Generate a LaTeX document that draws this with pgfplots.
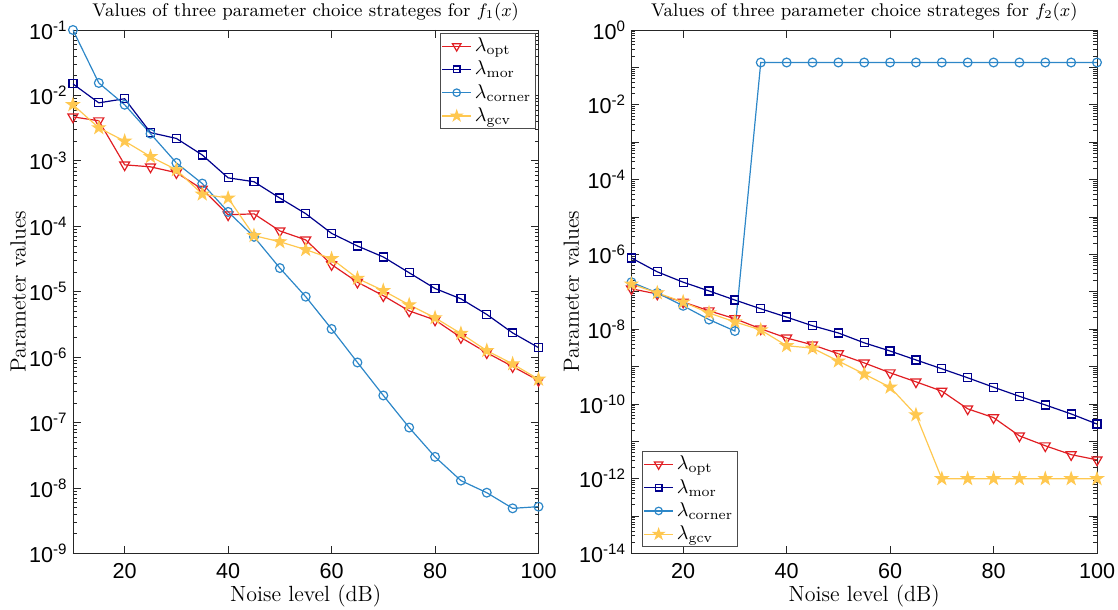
\documentclass[border=0pt]{standalone}
\usepackage{pgfplots}
\pgfplotsset{compat=1.18}
\usepackage{fontspec}
\newfontfamily\hv{Liberation Sans}

\definecolor{copt}{RGB}{225,30,35}
\definecolor{cmor}{RGB}{0,0,140}
\definecolor{ccor}{RGB}{45,135,200}
\definecolor{cgcv}{RGB}{255,200,80}

% filled five-pointed star, like MATLAB's pentagram
\pgfdeclareplotmark{pstar}{%
  \pgfpathmoveto{\pgfpointpolar{90}{1.3\pgfplotmarksize}}%
  \pgfpathlineto{\pgfpointpolar{126}{0.5\pgfplotmarksize}}%
  \pgfpathlineto{\pgfpointpolar{162}{1.3\pgfplotmarksize}}%
  \pgfpathlineto{\pgfpointpolar{198}{0.5\pgfplotmarksize}}%
  \pgfpathlineto{\pgfpointpolar{234}{1.3\pgfplotmarksize}}%
  \pgfpathlineto{\pgfpointpolar{270}{0.5\pgfplotmarksize}}%
  \pgfpathlineto{\pgfpointpolar{306}{1.3\pgfplotmarksize}}%
  \pgfpathlineto{\pgfpointpolar{342}{0.5\pgfplotmarksize}}%
  \pgfpathlineto{\pgfpointpolar{18}{1.3\pgfplotmarksize}}%
  \pgfpathlineto{\pgfpointpolar{54}{0.5\pgfplotmarksize}}%
  \pgfpathclose
  \pgfusepathqfillstroke
}

% log tick labels in the sans font: 10^e, and only even e
\newcommand\loglab{\pgfmathtruncatemacro\ee{round(\tick/2.302585093)}10\textsuperscript{\ee}}
\newcommand\evenlab{\pgfmathtruncatemacro\ee{round(\tick/2.302585093)}\ifodd\ee\relax\else 10\textsuperscript{\ee}\fi}

\pgfplotsset{
  lam/.style={
    width=233pt, height=262pt, scale only axis,
    xmin=10, xmax=100,
    xtick={20,40,60,80,100},
    axis line style={black!85, line width=0.4pt},
    every tick/.style={black!85, line width=0.4pt},
    major tick length=4pt, minor tick length=2pt,
    xticklabel style={font=\hv\fontsize{10.8}{12}\selectfont, yshift=-1.5pt},
    yticklabel style={font=\hv\fontsize{10.8}{12}\selectfont, xshift=-2.5pt, inner sep=0pt},
    /pgf/number format/assume math mode=true,
    title style={font=\fontsize{9.2}{10}\selectfont, yshift=-5pt},
    label style={font=\fontsize{11}{12}\selectfont},
    xlabel style={yshift=4pt},
    xlabel={Noise level (dB)},
    ylabel={Parameter values},
    legend style={font=\fontsize{10}{11}\selectfont, draw=black!70, line width=0.4pt,
      inner sep=0.5pt, nodes={inner sep=1.6pt}},
    legend image post style={scale=0.85},
    legend cell align=left,
  },
  popt/.style={copt, line width=0.6pt, mark=triangle, mark size=2.9pt, mark options={rotate=180, solid}},
  pmor/.style={cmor, line width=0.6pt, mark=square, mark size=2pt},
  pcor/.style={ccor, line width=0.6pt, mark=o, mark size=2.2pt},
  pgcv/.style={cgcv, line width=0.6pt, mark=pstar, mark size=2.4pt},
}

\begin{document}
\begin{tikzpicture}
\useasboundingbox (-36.5pt,-28pt) rectangle (523pt,277pt);
\begin{semilogyaxis}[lam,
  at={(0pt,0pt)},
  ymin=1e-9, ymax=1e-1,
  ytick={1e-9,1e-8,1e-7,1e-6,1e-5,1e-4,1e-3,1e-2,1e-1},
  yticklabel={\loglab},
  ylabel style={at={(axis description cs:-0.118,0.5)}, anchor=center},
  title={Values of three parameter choice strateges for $f_1(x)$},
  legend style={at={(0.994,0.994)}, anchor=north east},
]
\addplot[popt] coordinates {
  (10,4.7e-3) (15,4.1e-3) (20,8.7e-4) (25,8.1e-4) (30,6.6e-4) (35,3.7e-4)
  (40,1.5e-4) (45,1.55e-4) (50,8.5e-5) (55,6.2e-5) (60,2.6e-5) (65,1.4e-5)
  (70,8.7e-6) (75,5.1e-6) (80,3.7e-6) (85,2.0e-6) (90,1.17e-6) (95,7.2e-7) (100,4.4e-7)
};
\addlegendentry{$\lambda_{\mathrm{opt}}$}
\addplot[pmor] coordinates {
  (10,1.5e-2) (15,7.7e-3) (20,8.9e-3) (25,2.7e-3) (30,2.2e-3) (35,1.23e-3)
  (40,5.5e-4) (45,4.8e-4) (50,2.7e-4) (55,1.56e-4) (60,7.8e-5) (65,5.0e-5)
  (70,3.4e-5) (75,1.95e-5) (80,1.12e-5) (85,7.8e-6) (90,4.5e-6) (95,2.35e-6) (100,1.4e-6)
};
\addlegendentry{$\lambda_{\mathrm{mor}}$}
\addplot[pcor] coordinates {
  (10,1e-1) (15,1.55e-2) (20,7.2e-3) (25,2.6e-3) (30,9.3e-4) (35,4.5e-4)
  (40,1.66e-4) (45,6.9e-5) (50,2.3e-5) (55,8.4e-6) (60,2.7e-6) (65,8.3e-7)
  (70,2.6e-7) (75,8.4e-8) (80,3.0e-8) (85,1.3e-8) (90,8.5e-9) (95,4.9e-9) (100,5.2e-9)
};
\addlegendentry{$\lambda_{\mathrm{corner}}$}
\addplot[pgcv] coordinates {
  (10,7.2e-3) (15,3.2e-3) (20,2.0e-3) (25,1.16e-3) (30,7.3e-4) (35,3.1e-4)
  (40,2.7e-4) (45,7.2e-5) (50,5.8e-5) (55,4.4e-5) (60,3.2e-5) (65,1.6e-5)
  (70,1.04e-5) (75,6.3e-6) (80,4.0e-6) (85,2.3e-6) (90,1.26e-6) (95,7.9e-7) (100,4.6e-7)
};
\addlegendentry{$\lambda_{\mathrm{gcv}}$}
\end{semilogyaxis}

\begin{semilogyaxis}[lam,
  at={(279.5pt,0pt)},
  ymin=1e-14, ymax=1,
  ytick={1e-14,1e-13,1e-12,1e-11,1e-10,1e-9,1e-8,1e-7,1e-6,1e-5,1e-4,1e-3,1e-2,1e-1,1},
  yticklabel={\evenlab},
  ylabel style={at={(axis description cs:-0.129,0.5)}, anchor=center},
  title={Values of three parameter choice strateges for $f_2(x)$},
  legend style={at={(0.023,0.012)}, anchor=south west},
]
\addplot[popt] coordinates {
  (10,1.2e-7) (15,8.7e-8) (20,5.3e-8) (25,3.1e-8) (30,1.9e-8) (35,1.02e-8)
  (40,5.8e-9) (45,3.8e-9) (50,2.2e-9) (55,1.25e-9) (60,6.8e-10) (65,3.9e-10)
  (70,2.2e-10) (75,7.4e-11) (80,4.3e-11) (85,1.4e-11) (90,7.6e-12) (95,4.4e-12) (100,3.2e-12)
};
\addlegendentry{$\lambda_{\mathrm{opt}}$}
\addplot[pmor] coordinates {
  (10,8.0e-7) (15,3.4e-7) (20,1.8e-7) (25,1.05e-7) (30,6.0e-8) (35,3.5e-8)
  (40,2.1e-8) (45,1.23e-8) (50,7.9e-9) (55,4.3e-9) (60,2.6e-9) (65,1.5e-9)
  (70,8.7e-10) (75,5.0e-10) (80,2.8e-10) (85,1.6e-10) (90,9.4e-11) (95,5.4e-11) (100,2.9e-11)
};
\addlegendentry{$\lambda_{\mathrm{mor}}$}
\addplot[pcor] coordinates {
  (10,1.8e-7) (15,9.3e-8) (20,4.2e-8) (25,1.8e-8) (30,8.9e-9) (35,0.135)
  (40,0.135) (45,0.135) (50,0.135) (55,0.135) (60,0.135) (65,0.135)
  (70,0.135) (75,0.135) (80,0.135) (85,0.135) (90,0.135) (95,0.135) (100,0.135)
};
\addlegendentry{$\lambda_{\mathrm{corner}}$}
\addplot[pgcv] coordinates {
  (10,1.6e-7) (15,9.3e-8) (20,5.3e-8) (25,2.7e-8) (30,1.56e-8) (35,9.5e-9)
  (40,3.6e-9) (45,3.1e-9) (50,1.4e-9) (55,6.3e-10) (60,2.8e-10) (65,5.1e-11)
  (70,1e-12) (75,1e-12) (80,1e-12) (85,1e-12) (90,1e-12) (95,1e-12) (100,1e-12)
};
\addlegendentry{$\lambda_{\mathrm{gcv}}$}
\end{semilogyaxis}
\end{tikzpicture}
\end{document}
